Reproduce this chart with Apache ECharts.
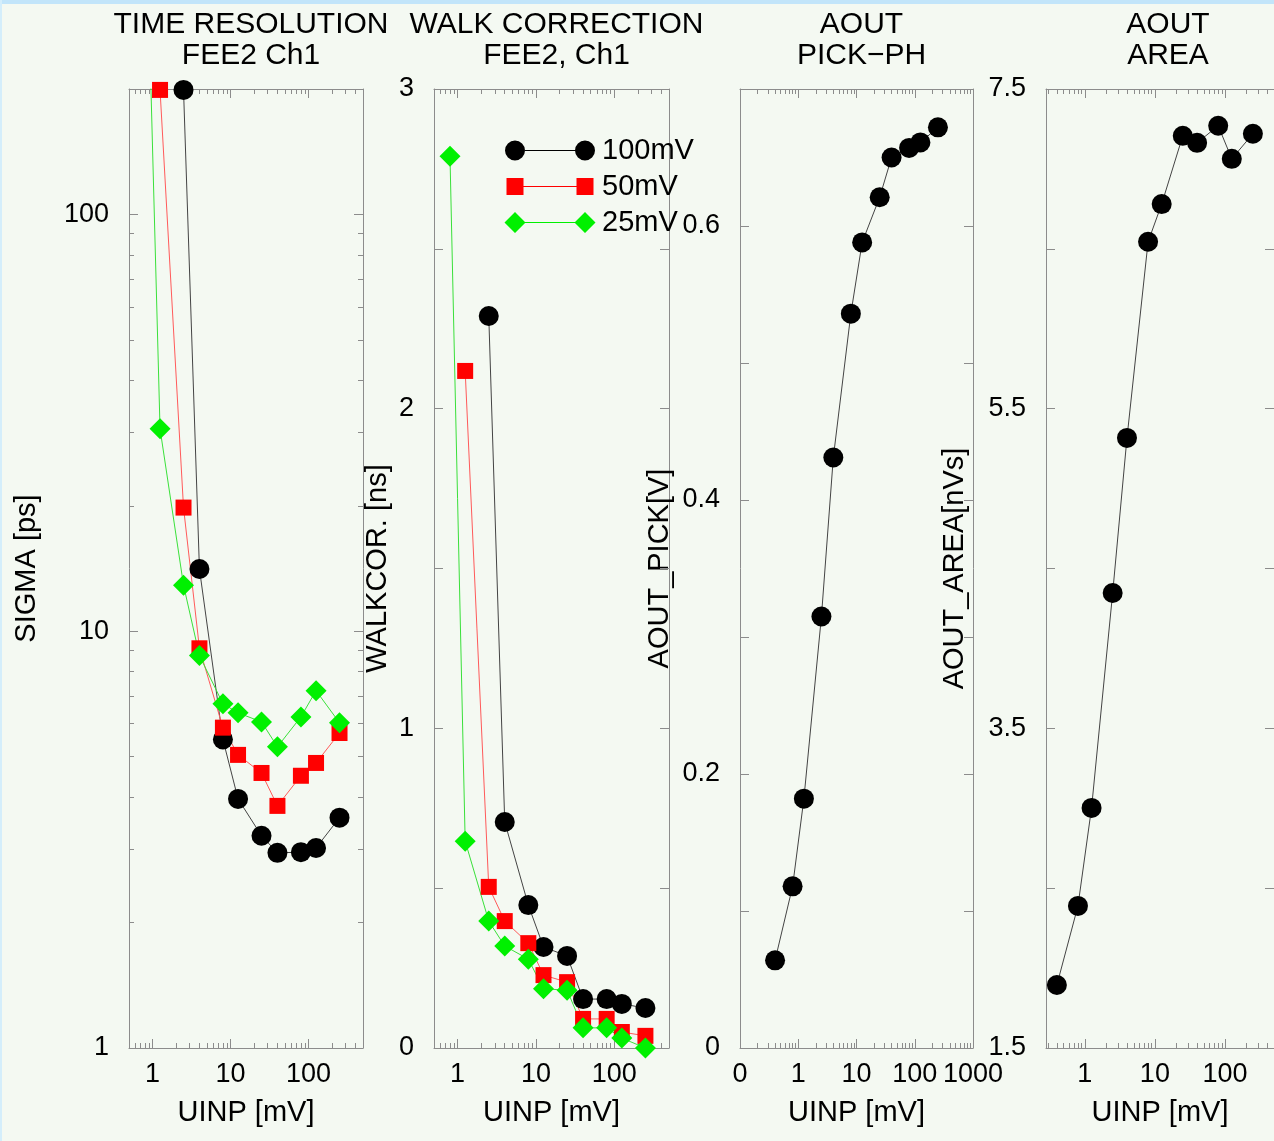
<!DOCTYPE html>
<html><head><meta charset="utf-8">
<script src="https://cdn.jsdelivr.net/npm/echarts@6/dist/echarts.min.js"></script>
<style>html,body{margin:0;padding:0;overflow:hidden;background:#f4f9f2}#c{width:1274px;height:1141px}</style>
</head><body><div id="c"></div>
<script>
// ---------------- DATA ----------------
const seriesNames = ['100mV', '50mV', '25mV'];
const uinp100 = [2.5, 4, 8, 12.5, 25, 40, 80, 125, 250];
const uinp50 = [1.25, 2.5, 4, 8, 12.5, 25, 40, 80, 125, 250];
const uinp25 = [0.8, 1.25, 2.5, 4, 8, 12.5, 25, 40, 80, 125, 250];
const uinpAout = [0.4, 0.8, 1.25, 2.5, 4, 8, 12.5, 25, 40, 80, 125, 250];

// time resolution sigma [ps]
const sigma100 = [199, 14.1, 5.5, 3.96, 3.23, 2.94, 2.95, 3.02, 3.57];
const sigma50 = [199, 19.8, 9.1, 5.87, 5.05, 4.57, 3.81, 4.5, 4.83, 5.7];
const sigma25 = [700, 30.6, 12.9, 8.74, 6.7, 6.37, 6.06, 5.28, 6.23, 7.2, 6.03];

// walk correction [ns]
const walk100 = [2.29, 0.707, 0.447, 0.316, 0.288, 0.153, 0.153, 0.138, 0.125];
const walk50 = [2.118, 0.504, 0.397, 0.328, 0.228, 0.206, 0.091, 0.091, 0.05, 0.038];
const walk25 = [2.79, 0.647, 0.397, 0.319, 0.278, 0.185, 0.181, 0.063, 0.063, 0.031, 0.0];

// AOUT pick-PH [V] and area [nVs]
const aoutPick = [0.064, 0.118, 0.182, 0.315, 0.431, 0.536, 0.588, 0.621, 0.650, 0.657, 0.661, 0.672];
const aoutArea = [1.894, 2.389, 3.002, 4.347, 5.317, 6.544, 6.78, 7.207, 7.163, 7.27, 7.063, 7.22];

const panelTitles = ['TIME RESOLUTION\nFEE2 Ch1', 'WALK CORRECTION\nFEE2, Ch1', 'AOUT\nPICK\u2212PH', 'AOUT\nAREA'];
const yNames = ['SIGMA [ps]', 'WALKCOR. [ns]', 'AOUT_PICK[V]', 'AOUT_AREA[nVs]'];
const xName = 'UINP [mV]';
const xLabelValues = [[1, 10, 100], [1, 10, 100], [0.1, 1, 10, 100, 1000], [1, 10, 100]];
const yLabelValues = [[1, 10, 100], [0, 1, 2, 3], [0, 0.2, 0.4, 0.6], [1.5, 3.5, 5.5, 7.5]];

// ---------------- LAYOUT / STYLE ----------------
const FONT = "'Liberation Sans', Arial, Helvetica, sans-serif";
const AXC = '#8c8c8c';
const TICKF = 27, TEXTF = 29, TITLEF = 30;
const panels = [
  {left: 129, width: 234, xmin: 0.5, xmax: 500, ylog: true, ymin: 1, ymax: 200, nameGap: 88, fmt: v => String(Math.round(v))},
  {left: 434, width: 235, xmin: 0.5, xmax: 500, ymin: 0, ymax: 3, yint: 0.5, nameGap: 42, fmt: v => String(v)},
  {left: 740, width: 233, xmin: 0.1, xmax: 1000, ymin: 0, ymax: 0.7, yint: 0.1, nameGap: 66, fmt: v => v === 0 ? '0' : v.toFixed(1)},
  {left: 1046, width: 234, xmin: 0.28, xmax: 500, ymin: 1.5, ymax: 7.5, yint: 1, nameGap: 77, fmt: v => v.toFixed(1)}
];
const TOP = 89, HEIGHT = 959;

function logMajor(a, b) { const r = []; for (let e = -3; e <= 4; e++) { const v = Math.pow(10, e); if (v >= a * 0.999 && v <= b * 1.001) r.push(+v.toPrecision(6)); } return r; }
function logMinor(a, b) { const r = []; for (let e = -3; e <= 4; e++) for (let k = 2; k <= 9; k++) { const v = +(k * Math.pow(10, e)).toPrecision(6); if (v > a * 1.001 && v < b * 0.999) r.push(v); } return r; }

const grids = [], xAxes = [], yAxes = [], titles = [], series = [];
const lineCol = {show: true, lineStyle: {color: AXC, width: 1}};
function tick(len, vals) { const t = {show: true, inside: true, length: len, lineStyle: {color: AXC, width: 1}}; if (vals) t.customValues = vals; return t; }

const mainX = [], mainY = [];
panels.forEach((p, i) => {
  grids.push({left: p.left, top: TOP, width: p.width, height: HEIGHT, containLabel: false});
  titles.push({text: panelTitles[i], left: p.left + p.width / 2, top: 4, textAlign: 'center',
    textStyle: {fontFamily: FONT, fontSize: TITLEF, fontWeight: 'normal', color: '#000', lineHeight: 31}});
  const xb = {type: 'log', logBase: 10, min: p.xmin, max: p.xmax, gridIndex: i, splitLine: {show: false}};
  const maj = logMajor(p.xmin, p.xmax), mnr = logMinor(p.xmin, p.xmax);
  mainX.push(xAxes.length);
  xAxes.push(Object.assign({}, xb, {position: 'bottom', axisLine: lineCol, axisTick: tick(9, maj),
    axisLabel: {show: true, customValues: xLabelValues[i], showMinLabel: true, showMaxLabel: true, margin: 13,
      fontFamily: FONT, fontSize: TICKF, color: '#000', formatter: v => (v < 1 ? '0' : String(Math.round(v)))},
    name: xName, nameLocation: 'middle', nameGap: 50, nameTextStyle: {fontFamily: FONT, fontSize: TEXTF, color: '#000'}}));
  xAxes.push(Object.assign({}, xb, {position: 'bottom', axisLine: {show: false}, axisTick: tick(5, mnr), axisLabel: {show: false}}));
  xAxes.push(Object.assign({}, xb, {position: 'top', axisLine: lineCol, axisTick: tick(9, maj), axisLabel: {show: false}}));
  xAxes.push(Object.assign({}, xb, {position: 'top', axisLine: {show: false}, axisTick: tick(5, mnr), axisLabel: {show: false}}));

  const yLabel = {show: true, customValues: yLabelValues[i], showMinLabel: true, showMaxLabel: true, margin: 20,
    fontFamily: FONT, fontSize: TICKF, color: '#000', formatter: p.fmt};
  const yName = {name: yNames[i], nameLocation: 'middle', nameGap: p.nameGap, nameTextStyle: {fontFamily: FONT, fontSize: TEXTF, color: '#000'}};
  mainY.push(yAxes.length);
  if (p.ylog) {
    const yb = {type: 'log', logBase: 10, min: p.ymin, max: p.ymax, gridIndex: i, splitLine: {show: false}};
    const ymaj = logMajor(p.ymin, p.ymax), ymnr = logMinor(p.ymin, p.ymax);
    yAxes.push(Object.assign({}, yb, yName, {position: 'left', axisLine: lineCol, axisTick: tick(9, ymaj), axisLabel: yLabel}));
    yAxes.push(Object.assign({}, yb, {position: 'left', axisLine: {show: false}, axisTick: tick(5, ymnr), axisLabel: {show: false}}));
    yAxes.push(Object.assign({}, yb, {position: 'right', axisLine: lineCol, axisTick: tick(9, ymaj), axisLabel: {show: false}}));
    yAxes.push(Object.assign({}, yb, {position: 'right', axisLine: {show: false}, axisTick: tick(5, ymnr), axisLabel: {show: false}}));
  } else {
    const yb = {type: 'value', min: p.ymin, max: p.ymax, interval: p.yint, gridIndex: i, splitLine: {show: false}};
    yAxes.push(Object.assign({}, yb, yName, {position: 'left', axisLine: lineCol, axisTick: tick(9), axisLabel: yLabel}));
    yAxes.push(Object.assign({}, yb, {position: 'right', axisLine: lineCol, axisTick: tick(9), axisLabel: {show: false}}));
  }
});

const zip = (xs, ys) => xs.map((x, k) => [x, ys[k]]);
const sty = [
  {symbol: 'circle', size: 20, color: '#000000', line: '#444444'},
  {symbol: 'rect', size: 16, color: '#ff0000', line: '#ff5a5a'},
  {symbol: 'diamond', size: 21, color: '#00f000', line: '#3ae03a'}
];
function mk(name, panel, data, s) {
  return {type: 'line', name: name, xAxisIndex: mainX[panel], yAxisIndex: mainY[panel], data: data,
    symbol: s.symbol, symbolSize: s.size, itemStyle: {color: s.color}, lineStyle: {color: s.line, width: 1},
    clip: true, animation: false, emphasis: {disabled: true}};
}
const sigmaSets = [[uinp100, sigma100], [uinp50, sigma50], [uinp25, sigma25]];
const walkSets = [[uinp100, walk100], [uinp50, walk50], [uinp25, walk25]];
sigmaSets.forEach((d, k) => series.push(mk(seriesNames[k], 0, zip(d[0], d[1]), sty[k])));
walkSets.forEach((d, k) => { const s = mk(seriesNames[k], 1, zip(d[0], d[1]), sty[k]); s.clip = false; series.push(s); });
series.push(Object.assign(mk('AOUT PICK-PH', 2, zip(uinpAout, aoutPick), sty[0]), {clip: false}));
series.push(Object.assign(mk('AOUT AREA', 3, zip(uinpAout, aoutArea), sty[0]), {clip: false}));

// legend icons: symbol - line - symbol
const pad = 'M0,0 L0.01,0 L0,0.01 Z M94,24 L93.99,24 L94,23.99 Z ';
const legendIcons = [
  'path://' + pad + 'M2,12 A10,10 0 1,0 22,12 A10,10 0 1,0 2,12 Z M22,11.6 L72,11.6 L72,12.4 L22,12.4 Z M72,12 A10,10 0 1,0 92,12 A10,10 0 1,0 72,12 Z',
  'path://' + pad + 'M3.5,3.5 L20.5,3.5 L20.5,20.5 L3.5,20.5 Z M20,11.6 L74,11.6 L74,12.4 L20,12.4 Z M73.5,3.5 L90.5,3.5 L90.5,20.5 L73.5,20.5 Z',
  'path://' + pad + 'M1.5,12 L12,1.5 L22.5,12 L12,22.5 Z M22,11.6 L72,11.6 L72,12.4 L22,12.4 Z M71.5,12 L82,1.5 L92.5,12 L82,22.5 Z'
];

const chart = echarts.init(document.getElementById('c'), null, {renderer: 'canvas'});
chart.setOption({
  backgroundColor: '#f4f9f2',
  animation: false,
  title: titles,
  grid: grids,
  xAxis: xAxes,
  yAxis: yAxes,
  legend: {
    data: seriesNames.map((n, k) => ({name: n, icon: legendIcons[k]})),
    orient: 'vertical', left: 498, top: 131, itemWidth: 94, itemHeight: 24, itemGap: 7, textGap: 5,
    textStyle: {fontFamily: FONT, fontSize: TEXTF, color: '#000'},
    selectedMode: false
  },
  graphic: [
    {type: 'rect', shape: {x: 0, y: 0, width: 1274, height: 4}, style: {fill: '#c2e5fa'}, silent: true},
    {type: 'rect', shape: {x: 0, y: 0, width: 2, height: 1141}, style: {fill: '#d4eefb'}, silent: true}
  ],
  series: series
});
</script></body></html>
